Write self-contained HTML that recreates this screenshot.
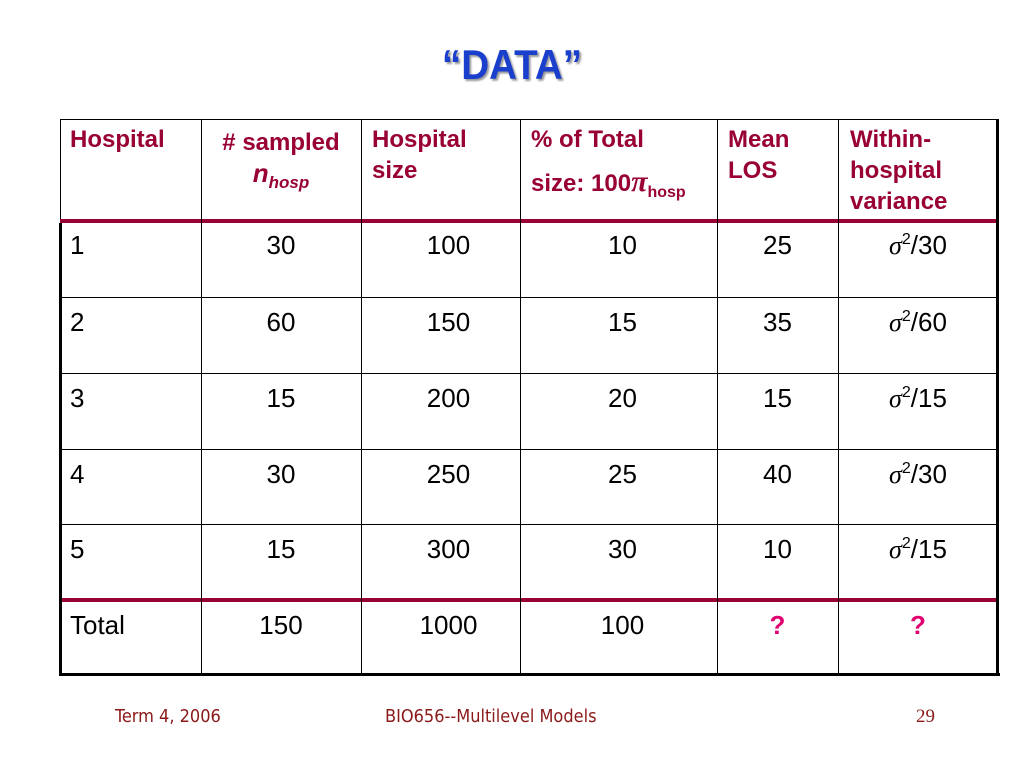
<!DOCTYPE html>
<html><head><meta charset="utf-8"><style>
body{margin:0;width:1024px;height:768px;background:#fff;position:relative;overflow:hidden;font-family:"Liberation Sans",Arial,sans-serif}
.a{position:absolute}
.h{position:absolute;color:#990033;font-weight:bold;font-size:24px;line-height:31px}
.c{position:absolute;font-size:26px;color:#000;text-align:center;line-height:28px}
.vl{position:absolute;background:#000;width:1px}
.hl{position:absolute;background:#000;height:1px;left:60px;width:938px}
.sig{font-family:"Liberation Serif",serif;font-style:italic}
sup{font-size:16px;vertical-align:10px;line-height:0}
</style></head><body>
<div class="a" style="left:0;width:1024px;top:40px;text-align:center;font-size:42px;font-weight:bold;color:#1a3fcc;text-shadow:2px 2px 2px #999;line-height:50px;transform:scaleX(0.92)">“DATA”</div>

<div id="tbl">
<div class="hl" style="top:119px"></div>
<div class="a" style="left:60px;top:219px;width:938px;height:4px;background:#990033"></div>
<div class="a" style="left:60px;top:598px;width:938px;height:4px;background:#990033"></div>
<div class="a" style="left:59px;top:673px;width:941px;height:3px;background:#000"></div>
<div class="vl" style="left:60px;top:119px;height:100px"></div>
<div class="a" style="left:59px;top:223px;width:3px;height:452px;background:#000"></div>
<div class="a" style="left:996px;top:119px;width:3px;height:556px;background:#000"></div>
<div class="vl" style="left:201px;top:119px;height:555px"></div>
<div class="vl" style="left:361px;top:119px;height:555px"></div>
<div class="vl" style="left:520px;top:119px;height:555px"></div>
<div class="vl" style="left:717px;top:119px;height:555px"></div>
<div class="vl" style="left:838px;top:119px;height:555px"></div>
<div class="hl" style="top:297px"></div>
<div class="hl" style="top:373px"></div>
<div class="hl" style="top:449px"></div>
<div class="hl" style="top:524px"></div>

<div class="h" style="left:70px;top:124px">Hospital</div>
<div class="h" style="left:201px;width:160px;text-align:center;top:127px"># sampled<br><span style="font-style:italic;font-size:26px">n<sub style="font-size:17px">hosp</sub></span></div>
<div class="h" style="left:372px;top:124px">Hospital<br>size</div>
<div class="h" style="left:531px;top:124px;line-height:42px;margin-top:-5px">% of Total<br>size: 100<span class="sig" style="font-size:30px">π</span><sub style="font-size:16px">hosp</sub></div>
<div class="h" style="left:728px;top:124px">Mean<br>LOS</div>
<div class="h" style="left:850px;top:124px">Within-<br>hospital<br>variance</div>
</div>

<div id="rows"></div>

<div class="a" style="left:115px;top:706px;font-size:18px;color:#8b1a1a;font-family:'DejaVu Sans Condensed','DejaVu Sans',sans-serif">Term 4, 2006</div>
<div class="a" style="left:385px;top:706px;font-size:18px;color:#8b1a1a;font-family:'DejaVu Sans Condensed','DejaVu Sans',sans-serif">BIO656--Multilevel Models</div>
<div class="a" style="left:916px;top:706px;font-size:19px;color:#8b1a1a;font-family:'Liberation Serif',serif">29</div>

<script>
const hospitals=["1","2","3","4","5","Total"];
const sampled=[30,60,15,30,15,150];
const sizes=[100,150,200,250,300,1000];
const percents=[10,15,20,25,30,100];
const meanLos=["25","35","15","40","10","?"];
const variances=["30","60","15","30","15","?"];
const rowTops=[220,297,373,449,524,600];
const root=document.getElementById('rows');
function cell(txt,left,width,top,align,color,name,html){
  const d=document.createElement('div');
  d.className='c';
  
  
  d.style.left=left+'px';d.style.width=width+'px';d.style.top=top+'px';
  d.style.textAlign=align;
  if(color){d.style.color=color;d.style.fontWeight='bold';}
  if(html)d.innerHTML=txt;else d.textContent=txt;
  root.appendChild(d);
}
hospitals.forEach((h,i)=>{
  const t=rowTops[i]+11;
  cell(h,70,120,t,'left',null,'hospital-id-cell');
  cell(sampled[i],201,160,t,'center',null,'sampled-cell');
  cell(sizes[i],376,145,t,'center',null,'size-cell');
  cell(percents[i],530,185,t,'center',null,'percent-cell');
  const q=meanLos[i]==='?';
  cell(meanLos[i],717,121,t,'center',q?'#e0006f':null,'mean-los-cell');
  if(variances[i]==='?') cell('?',838,160,t,'center','#e0006f','variance-cell');
  else cell('<span class="sig">σ</span><sup>2</sup>/'+variances[i],838,160,t,'center',null,'variance-cell',true);
});
</script>
</body></html>
